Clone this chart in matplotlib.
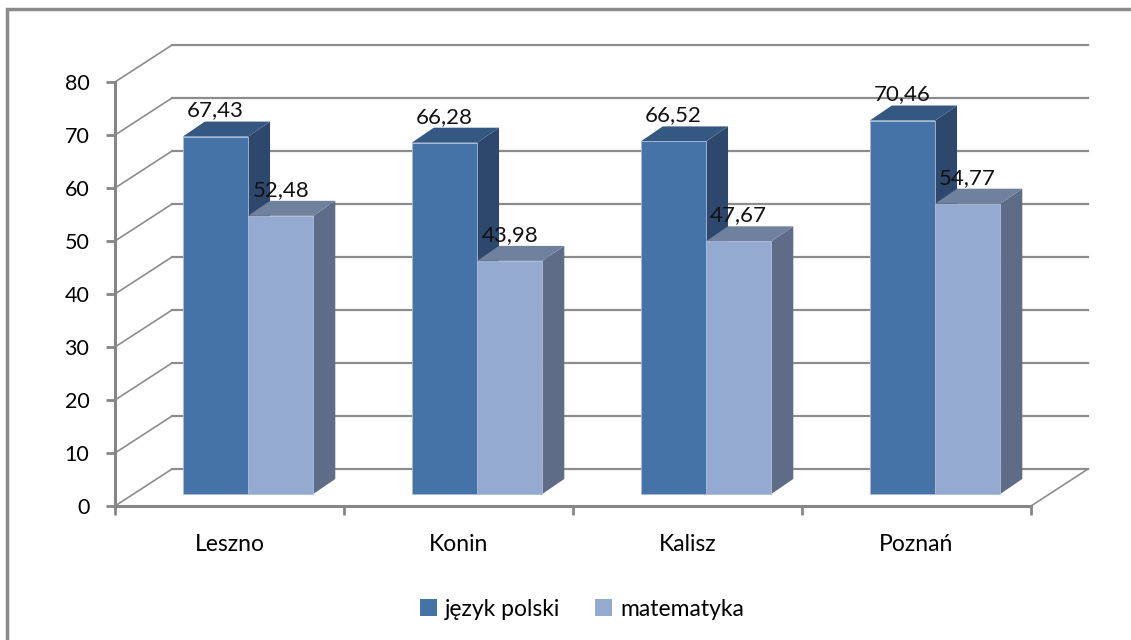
import matplotlib
matplotlib.use("Agg")
import matplotlib.pyplot as plt
from matplotlib.patches import Polygon, Rectangle, Patch

# =============================
# DATA
# =============================

cities = ["Leszno", "Konin", "Kalisz", "Poznań"]
series_names = ["język polski", "matematyka"]
polski = [67.43, 66.28, 66.52, 70.46]
matematyka = [52.48, 43.98, 47.67, 54.77]
y_ticks = [0, 10, 20, 30, 40, 50, 60, 70, 80]

# =============================
# STYLE
# =============================

plt.rcParams["font.family"] = ["Lato", "DejaVu Sans"]

FRONT = ["#4572a7", "#95aad0"]
TOP = ["#345882", "#70819e"]
SIDE = ["#2d486c", "#5e6c87"]
GRID = "#8c8c8c"

W, H = 1131, 640
X0, X1, Y0, Y1 = 115, 1031, 506, 82

# depth of the 3D box in data units
DX, DY = 0.249, 6.98
# bar plane offset and bar depth
OX, OY = 0.081, 2.27
BDX, BDY = 0.096, 2.83
BAR_W = 0.285

fig = plt.figure(figsize=(W / 100, H / 100), dpi=100)
ax = fig.add_axes([X0 / W, 1 - Y0 / H, (X1 - X0) / W, (Y0 - Y1) / H])
ax.set_xlim(0, len(cities))
ax.set_ylim(0, 80)
ax.set_facecolor("none")

# outer chart frame (cut off at right and bottom)
fig.patches.append(Rectangle((7 / W, -0.05), 1.1, 1 - 9 / H + 0.05,
                             transform=fig.transFigure, fill=False,
                             edgecolor="#8a8a8a", lw=2.5))

# back wall grid and side wall
n = len(cities)
for v in y_ticks:
    ax.plot([DX, n + DX], [v + DY, v + DY], color=GRID, lw=1.6,
            clip_on=False, zorder=1)
    ax.plot([0, DX], [v, v + DY], color=GRID, lw=1.2, clip_on=False, zorder=1)
ax.plot([n, n + DX], [0, DY], color=GRID, lw=1.2, clip_on=False, zorder=1)

# bars
for i in range(n):
    for s, vals in enumerate([polski, matematyka]):
        v = vals[i]
        left = i + 0.5 + OX - BAR_W + s * BAR_W
        right = left + BAR_W
        bottom = OY
        top = v + OY
        front = Rectangle((left, bottom), BAR_W, v, facecolor=FRONT[s],
                          edgecolor="#a9bcd8", lw=0.6, zorder=3, clip_on=False)
        top_face = Polygon([(left, top), (right, top),
                            (right + BDX, top + BDY), (left + BDX, top + BDY)],
                           closed=True, facecolor=TOP[s], edgecolor="none",
                           zorder=3, clip_on=False)
        side = Polygon([(right, bottom), (right + BDX, bottom + BDY),
                        (right + BDX, top + BDY), (right, top)],
                       closed=True, facecolor=SIDE[s], edgecolor="none",
                       zorder=3, clip_on=False)
        ax.add_patch(side)
        ax.add_patch(top_face)
        ax.add_patch(front)
        ax.text(left + BAR_W / 2, top + BDY + 0.2, f"{v:.2f}".replace(".", ","),
                ha="center", va="bottom", fontsize=16, color="#111111",
                zorder=5, clip_on=False)

# axes
for side_name in ["top", "right"]:
    ax.spines[side_name].set_visible(False)
for side_name in ["left", "bottom"]:
    ax.spines[side_name].set_color("#868686")
    ax.spines[side_name].set_linewidth(2.2)

ax.set_yticks(y_ticks)
ax.set_yticklabels([str(t) for t in y_ticks], fontsize=15.5)
ax.tick_params(axis="y", length=6.5, width=2, color="#868686", pad=12)

ax.set_xticks(range(n + 1))
ax.set_xticklabels([""] * (n + 1))
ax.tick_params(axis="x", which="major", length=6.5, width=2, color="#868686")
ax.set_xticks([i + 0.5 for i in range(n)], minor=True)
ax.set_xticklabels(cities, minor=True, fontsize=16.5)
ax.tick_params(axis="x", which="minor", length=0, pad=20)

handles = [Patch(facecolor=FRONT[0], edgecolor="none"),
           Patch(facecolor=FRONT[1], edgecolor="none")]
fig.legend(handles, series_names, loc="center",
           bbox_to_anchor=(582 / W, 1 - 609 / H), ncol=2, frameon=False,
           fontsize=16.5, handlelength=0.75, handleheight=0.75,
           handletextpad=0.35, columnspacing=1.5)

fig.savefig("out.png", dpi=100)
